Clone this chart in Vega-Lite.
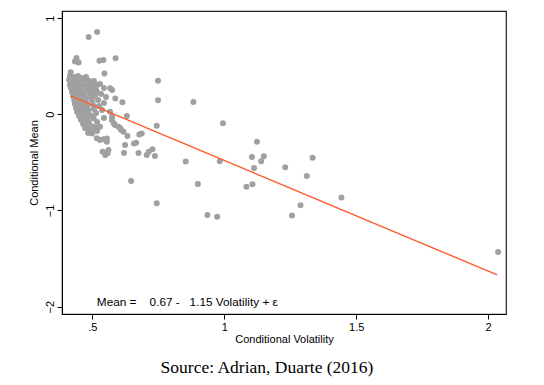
{
  "$schema": "https://vega.github.io/schema/vega-lite/v6.json",
  "width": 444,
  "height": 303,
  "autosize": {"type": "none"},
  "padding": {"left": 62, "top": 11, "right": 38, "bottom": 71},
  "background": "white",
  "config": {
    "view": {"stroke": "#222222", "strokeWidth": 1.2},
    "font": "Liberation Sans"
  },
  "title": {
    "text": "Source: Adrian, Duarte (2016)",
    "orient": "bottom",
    "font": "Liberation Serif",
    "fontSize": 17.5,
    "fontWeight": "normal",
    "color": "black",
    "offset": 15,
    "dx": -17
  },
  "layer": [
    {
      "data": {"values": [
        {"x": 0.518, "y": 0.855}, {"x": 0.486, "y": 0.804}, {"x": 0.440, "y": 0.585}, {"x": 0.434, "y": 0.549},
        {"x": 0.448, "y": 0.538}, {"x": 0.527, "y": 0.557}, {"x": 0.542, "y": 0.564}, {"x": 0.588, "y": 0.582},
        {"x": 0.418, "y": 0.438}, {"x": 0.546, "y": 0.424}, {"x": 0.749, "y": 0.349}, {"x": 0.749, "y": 0.147},
        {"x": 0.883, "y": 0.128}, {"x": 0.744, "y": -0.120}, {"x": 0.995, "y": -0.094}, {"x": 0.728, "y": -0.364},
        {"x": 0.737, "y": -0.433}, {"x": 0.854, "y": -0.491}, {"x": 0.983, "y": -0.489}, {"x": 1.124, "y": -0.285},
        {"x": 1.105, "y": -0.444}, {"x": 1.150, "y": -0.437}, {"x": 1.140, "y": -0.489}, {"x": 1.113, "y": -0.558},
        {"x": 1.231, "y": -0.551}, {"x": 1.335, "y": -0.451}, {"x": 1.313, "y": -0.641}, {"x": 0.900, "y": -0.725},
        {"x": 1.084, "y": -0.753}, {"x": 1.107, "y": -0.728}, {"x": 1.444, "y": -0.865}, {"x": 0.744, "y": -0.924},
        {"x": 0.936, "y": -1.047}, {"x": 0.973, "y": -1.064}, {"x": 1.289, "y": -0.945}, {"x": 1.257, "y": -1.052},
        {"x": 2.038, "y": -1.431}, {"x": 0.647, "y": -0.693},
        {"x": 0.575, "y": 0.253}, {"x": 0.568, "y": 0.270}, {"x": 0.587, "y": 0.164}, {"x": 0.614, "y": 0.125},
        {"x": 0.631, "y": -0.018}, {"x": 0.505, "y": -0.042}, {"x": 0.529, "y": -0.129}, {"x": 0.499, "y": -0.200},
        {"x": 0.517, "y": -0.249}, {"x": 0.529, "y": -0.267}, {"x": 0.542, "y": -0.260}, {"x": 0.555, "y": -0.252},
        {"x": 0.555, "y": -0.285}, {"x": 0.539, "y": -0.389}, {"x": 0.549, "y": -0.423}, {"x": 0.558, "y": -0.405},
        {"x": 0.561, "y": -0.371}, {"x": 0.620, "y": -0.402}, {"x": 0.675, "y": -0.402}, {"x": 0.678, "y": -0.210},
        {"x": 0.687, "y": -0.200}, {"x": 0.666, "y": -0.296}, {"x": 0.658, "y": -0.304}, {"x": 0.706, "y": -0.423},
        {"x": 0.714, "y": -0.389}, {"x": 0.633, "y": -0.226}, {"x": 0.609, "y": -0.163}, {"x": 0.599, "y": -0.129},
        {"x": 0.618, "y": -0.181}, {"x": 0.574, "y": -0.059}, {"x": 0.586, "y": -0.111}, {"x": 0.567, "y": 0.027},
        {"x": 0.624, "y": -0.319}, {"x": 0.581, "y": -0.094}, {"x": 0.606, "y": -0.146}, {"x": 0.575, "y": -0.025},
        {"x": 0.518, "y": 0.305}, {"x": 0.486, "y": 0.349},
        {"x": 0.415, "y": 0.398}, {"x": 0.431, "y": 0.388}, {"x": 0.446, "y": 0.398}, {"x": 0.461, "y": 0.377},
        {"x": 0.476, "y": 0.388}, {"x": 0.412, "y": 0.356}, {"x": 0.423, "y": 0.346}, {"x": 0.438, "y": 0.356},
        {"x": 0.453, "y": 0.336}, {"x": 0.469, "y": 0.356}, {"x": 0.495, "y": 0.336}, {"x": 0.506, "y": 0.346},
        {"x": 0.415, "y": 0.305}, {"x": 0.427, "y": 0.315}, {"x": 0.442, "y": 0.305}, {"x": 0.457, "y": 0.315},
        {"x": 0.472, "y": 0.294}, {"x": 0.487, "y": 0.305}, {"x": 0.503, "y": 0.294}, {"x": 0.529, "y": 0.315},
        {"x": 0.419, "y": 0.273}, {"x": 0.434, "y": 0.263}, {"x": 0.450, "y": 0.273}, {"x": 0.465, "y": 0.253},
        {"x": 0.480, "y": 0.273}, {"x": 0.499, "y": 0.263}, {"x": 0.514, "y": 0.253}, {"x": 0.544, "y": 0.273},
        {"x": 0.423, "y": 0.232}, {"x": 0.438, "y": 0.221}, {"x": 0.453, "y": 0.232}, {"x": 0.469, "y": 0.211},
        {"x": 0.484, "y": 0.232}, {"x": 0.499, "y": 0.221}, {"x": 0.518, "y": 0.232}, {"x": 0.533, "y": 0.211},
        {"x": 0.427, "y": 0.190}, {"x": 0.442, "y": 0.180}, {"x": 0.457, "y": 0.190}, {"x": 0.472, "y": 0.169},
        {"x": 0.491, "y": 0.180}, {"x": 0.510, "y": 0.190}, {"x": 0.552, "y": 0.180}, {"x": 0.431, "y": 0.148},
        {"x": 0.446, "y": 0.138}, {"x": 0.461, "y": 0.148}, {"x": 0.476, "y": 0.128}, {"x": 0.499, "y": 0.138},
        {"x": 0.522, "y": 0.148}, {"x": 0.544, "y": 0.117}, {"x": 0.434, "y": 0.107}, {"x": 0.450, "y": 0.097},
        {"x": 0.465, "y": 0.107}, {"x": 0.480, "y": 0.086}, {"x": 0.503, "y": 0.097}, {"x": 0.525, "y": 0.086},
        {"x": 0.438, "y": 0.065}, {"x": 0.453, "y": 0.055}, {"x": 0.469, "y": 0.065}, {"x": 0.484, "y": 0.045},
        {"x": 0.506, "y": 0.055}, {"x": 0.537, "y": 0.045}, {"x": 0.442, "y": 0.024}, {"x": 0.457, "y": 0.014},
        {"x": 0.472, "y": 0.024}, {"x": 0.487, "y": 0.003}, {"x": 0.514, "y": 0.014}, {"x": 0.450, "y": -0.018},
        {"x": 0.465, "y": -0.028}, {"x": 0.480, "y": -0.038}, {"x": 0.495, "y": -0.018}, {"x": 0.544, "y": -0.038},
        {"x": 0.457, "y": -0.059}, {"x": 0.472, "y": -0.070}, {"x": 0.487, "y": -0.080}, {"x": 0.518, "y": -0.080},
        {"x": 0.465, "y": -0.101}, {"x": 0.480, "y": -0.111}, {"x": 0.495, "y": -0.121}, {"x": 0.510, "y": -0.132},
        {"x": 0.472, "y": -0.142}, {"x": 0.487, "y": -0.163}, {"x": 0.503, "y": -0.153}, {"x": 0.484, "y": -0.194},
        {"x": 0.518, "y": -0.174}
      ]},
      "mark": {"type": "circle", "color": "#A0A0A0", "opacity": 1, "size": 36},
      "encoding": {
        "x": {
          "field": "x", "type": "quantitative",
          "scale": {"domain": [0.385, 2.068], "nice": false, "zero": false},
          "axis": {
            "title": "Conditional Volatility",
            "values": [0.5, 1, 1.5, 2],
            "format": "~g",
            "labelExpr": "datum.value == 0.5 ? '.5' : datum.label",
            "grid": false,
            "tickSize": 5,
            "tickColor": "black",
            "domainColor": "black",
            "labelPadding": 2,
            "labelFont": "Liberation Sans",
            "labelFontSize": 11,
            "labelColor": "black",
            "titleFont": "Liberation Sans",
            "titleFontSize": 11,
            "titleFontWeight": "normal",
            "titleColor": "black",
            "titlePadding": 1
          }
        },
        "y": {
          "field": "y", "type": "quantitative",
          "scale": {"domain": [-2.076, 1.074], "nice": false, "zero": false},
          "axis": {
            "title": "Conditional Mean",
            "values": [-2, -1, 0, 1],
            "format": "d",
            "labelAngle": -90,
            "grid": false,
            "tickSize": 5,
            "tickColor": "black",
            "domainColor": "black",
            "labelPadding": 2,
            "labelFont": "Liberation Sans",
            "labelFontSize": 11,
            "labelColor": "black",
            "titleFont": "Liberation Sans",
            "titleFontSize": 11,
            "titleFontWeight": "normal",
            "titleColor": "black",
            "titlePadding": 5
          }
        }
      }
    },
    {
      "data": {"values": [{"x": 0.419, "y": 0.188}, {"x": 2.035, "y": -1.670}]},
      "mark": {"type": "line", "color": "#FF5B2E", "strokeWidth": 1.4},
      "encoding": {
        "x": {"field": "x", "type": "quantitative"},
        "y": {"field": "y", "type": "quantitative"}
      }
    },
    {
      "data": {"values": [{"x": 0.517, "y": -1.956, "label": "Mean =\u00a0\u00a0\u00a0 0.67 -\u00a0\u00a0 1.15 Volatility + ε"}]},
      "mark": {"type": "text", "align": "left", "baseline": "middle", "font": "Liberation Sans", "fontSize": 11.8, "color": "black"},
      "encoding": {
        "x": {"field": "x", "type": "quantitative"},
        "y": {"field": "y", "type": "quantitative"},
        "text": {"field": "label"}
      }
    }
  ]
}
